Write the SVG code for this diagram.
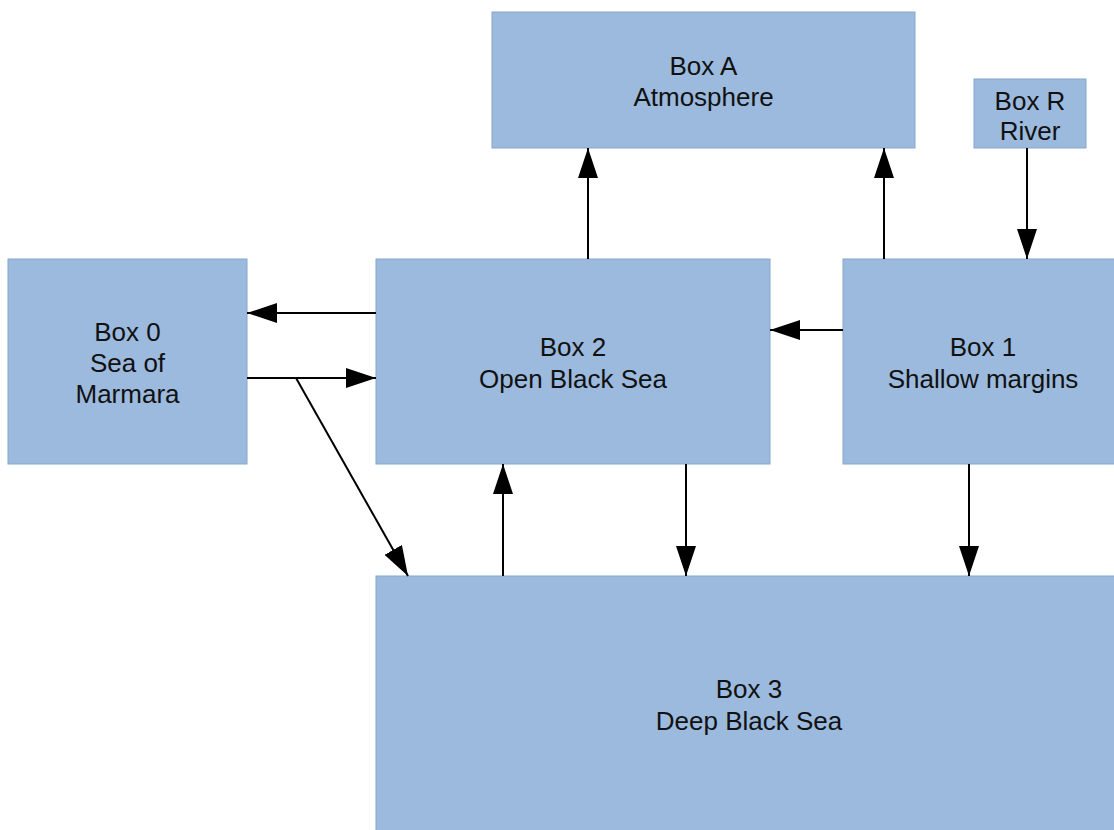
<svg xmlns="http://www.w3.org/2000/svg" width="1114" height="830" viewBox="0 0 1114 830">
  <style>
    .box { fill: #9bbadd; stroke: #86a6cc; stroke-width: 1; }
    .lbl { font-family: "Liberation Sans", Arial, sans-serif; font-size: 26px; fill: #111; text-anchor: middle; }
    .edge { stroke: #000; stroke-width: 2; fill: none; marker-end: url(#head); }
  </style>
  <defs>
    <marker id="head" markerUnits="userSpaceOnUse" markerWidth="30" markerHeight="20" refX="30" refY="10" orient="auto">
      <path d="M0,0 L30,10 L0,20 Z" fill="#000"/>
    </marker>
  </defs>
  <rect width="1114" height="830" fill="#fff"/>

  <g id="boxA">
    <rect class="box" x="492" y="12" width="423" height="136"/>
    <text class="lbl" x="703.5" y="75">Box A</text>
    <text class="lbl" x="703.5" y="106">Atmosphere</text>
  </g>
  <g id="boxR">
    <rect class="box" x="974" y="79" width="112" height="69"/>
    <text class="lbl" x="1030" y="110">Box R</text>
    <text class="lbl" x="1030" y="140">River</text>
  </g>
  <g id="box0">
    <rect class="box" x="8" y="259" width="239" height="205"/>
    <text class="lbl" x="127.5" y="341">Box 0</text>
    <text class="lbl" x="127.5" y="372">Sea of</text>
    <text class="lbl" x="127.5" y="403">Marmara</text>
  </g>
  <g id="box2">
    <rect class="box" x="376" y="259" width="394" height="205"/>
    <text class="lbl" x="573" y="356">Box 2</text>
    <text class="lbl" x="573" y="388">Open Black Sea</text>
  </g>
  <g id="box1">
    <rect class="box" x="843" y="259" width="280" height="205"/>
    <text class="lbl" x="983" y="356">Box 1</text>
    <text class="lbl" x="983" y="388">Shallow margins</text>
  </g>
  <g id="box3">
    <rect class="box" x="376" y="576" width="746" height="256"/>
    <text class="lbl" x="749" y="698">Box 3</text>
    <text class="lbl" x="749" y="730">Deep Black Sea</text>
  </g>

  <g id="connectors">
    <line class="edge" x1="588" y1="259" x2="588" y2="148"/>
    <line class="edge" x1="884" y1="259" x2="884" y2="148"/>
    <line class="edge" x1="1027" y1="148" x2="1027" y2="259"/>
    <line class="edge" x1="376" y1="313" x2="247" y2="313"/>
    <line class="edge" x1="247" y1="378" x2="376" y2="378"/>
    <line class="edge" x1="296" y1="378" x2="408" y2="576"/>
    <line class="edge" x1="843" y1="330" x2="770" y2="330"/>
    <line class="edge" x1="503" y1="576" x2="503" y2="464"/>
    <line class="edge" x1="686" y1="464" x2="686" y2="576"/>
    <line class="edge" x1="969" y1="464" x2="969" y2="576"/>
  </g>
</svg>
